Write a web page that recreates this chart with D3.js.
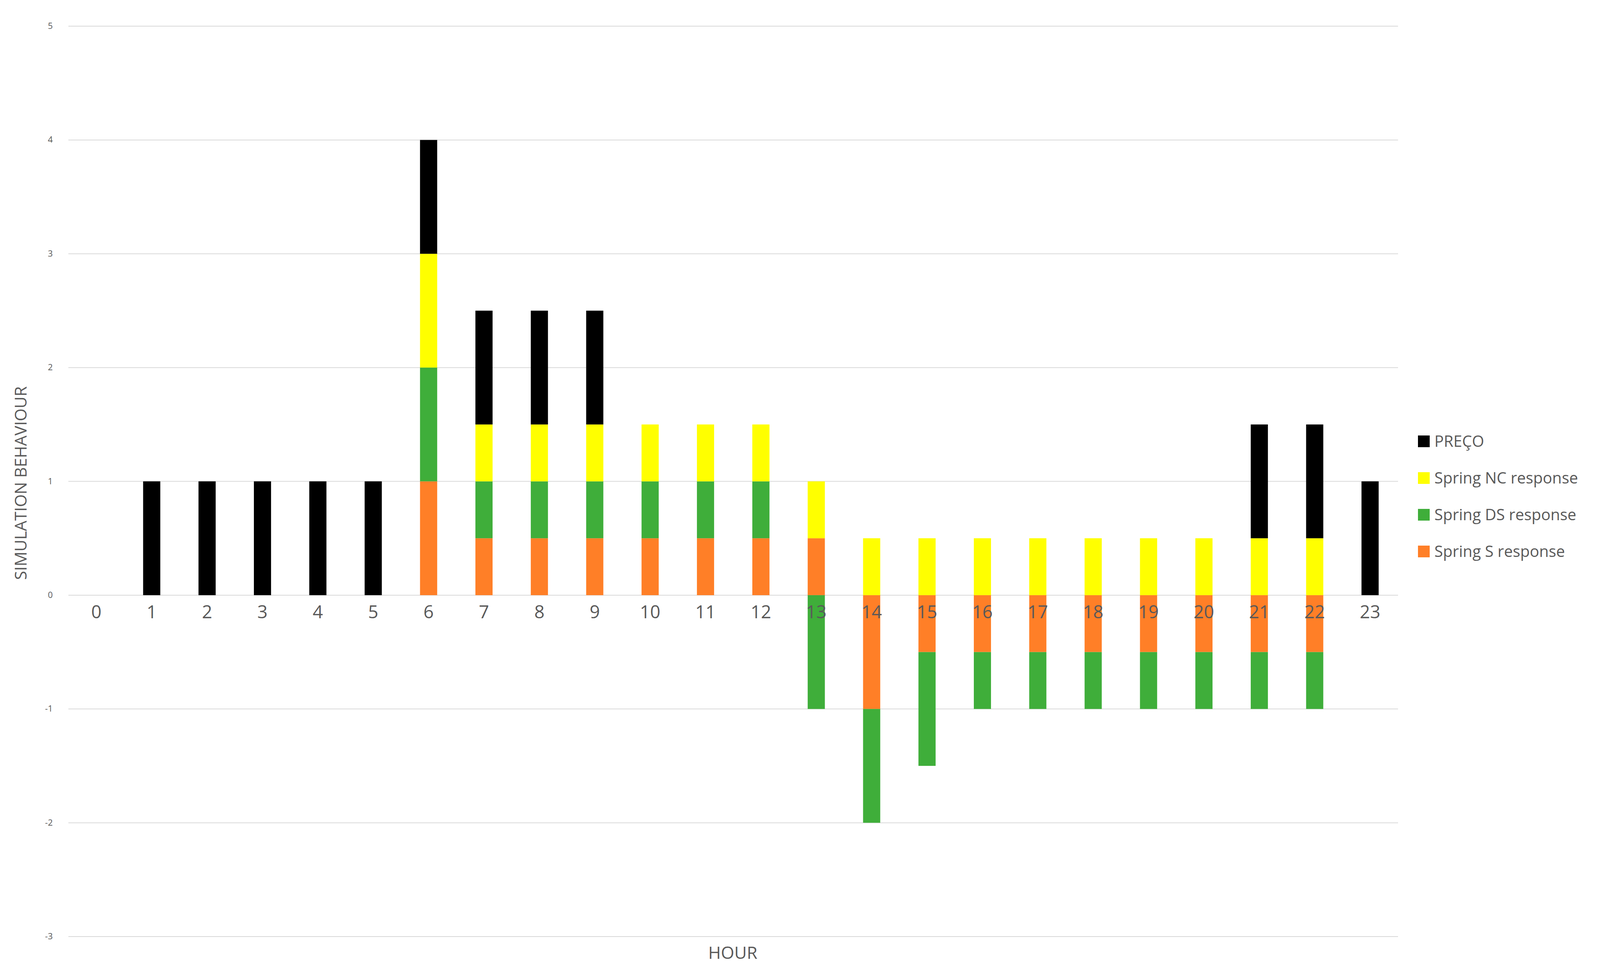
<!DOCTYPE html>
<html>
<head>
<meta charset="utf-8">
<script src="https://cdn.jsdelivr.net/npm/d3@7"></script>
<style>
  body { margin: 0; background: #fff; overflow: hidden; }
  text { font-family: "Open Sans", "Liberation Sans", sans-serif; }
</style>
</head>
<body>
<div id="graph"></div>
<script>
// Data
var hours   = d3.range(0, 24).map(String);
var springS  = [0, 0, 0, 0, 0, 0, 1, 0.5, 0.5, 0.5, 0.5, 0.5, 0.5, 0.5, -1, -0.5, -0.5, -0.5, -0.5, -0.5, -0.5, -0.5, -0.5, 0];
var springDS = [0, 0, 0, 0, 0, 0, 1, 0.5, 0.5, 0.5, 0.5, 0.5, 0.5, -1, -1, -1, -0.5, -0.5, -0.5, -0.5, -0.5, -0.5, -0.5, 0];
var springNC = [0, 0, 0, 0, 0, 0, 1, 0.5, 0.5, 0.5, 0.5, 0.5, 0.5, 0.5, 0.5, 0.5, 0.5, 0.5, 0.5, 0.5, 0.5, 0.5, 0.5, 0];
var preco    = [0, 1, 1, 1, 1, 1, 1, 1, 1, 1, 0, 0, 0, 0, 0, 0, 0, 0, 0, 0, 0, 1, 1, 1];
var yTicks = [-3, -2, -1, 0, 1, 2, 3, 4, 5];

var series = [
    { key: 'S',  name: 'Spring S response',  color: '#ff7f27', values: springS },
    { key: 'DS', name: 'Spring DS response', color: '#3fae3a', values: springDS },
    { key: 'NC', name: 'Spring NC response', color: '#ffff00', values: springNC },
    { key: 'P',  name: 'PREÇO',              color: '#000000', values: preco }
];

var rows = hours.map(function (h, i) {
    var r = { hour: h };
    series.forEach(function (s) { r[s.key] = s.values[i]; });
    return r;
});

var W = 4211, H = 2499;
var margin = { left: 175, right: 632, top: 67, bottom: 101 };

var svg = d3.select('#graph').append('svg')
            .attr('width', W).attr('height', H);

var xScale = d3.scaleBand().domain(hours)
               .range([margin.left, W - margin.right]).paddingInner(0.69).paddingOuter(0.35);
var yScale = d3.scaleLinear().domain([-3, 5]).range([H - margin.bottom, margin.top]);

// Gridlines
svg.append('g').selectAll('line').data(yTicks).enter().append('line')
   .attr('x1', margin.left).attr('x2', W - margin.right)
   .attr('y1', function (d) { return yScale(d); })
   .attr('y2', function (d) { return yScale(d); })
   .attr('stroke', '#d9d9d9').attr('stroke-width', 2);

// Y tick labels
svg.append('g').selectAll('text').data(yTicks).enter().append('text')
   .attr('x', 135).attr('y', function (d) { return yScale(d) + 7; })
   .attr('text-anchor', 'end').attr('font-size', 22).attr('fill', '#595959')
   .text(function (d) { return d; });

// Stacked bars
var stack = d3.stack().keys(series.map(function (s) { return s.key; }))
              .offset(d3.stackOffsetDiverging);
var layers = stack(rows);

svg.append('g').selectAll('g').data(layers).enter().append('g')
   .attr('fill', function (d, i) { return series[i].color; })
   .selectAll('rect').data(function (d) { return d; }).enter().append('rect')
   .attr('x', function (d) { return xScale(d.data.hour); })
   .attr('width', xScale.bandwidth())
   .attr('y', function (d) { return yScale(Math.max(d[0], d[1])); })
   .attr('height', function (d) { return Math.abs(yScale(d[0]) - yScale(d[1])); });

// Category labels at zero line
var xAxis = d3.axisBottom(xScale).tickSize(0).tickPadding(26);
var gx = svg.append('g').attr('transform', 'translate(0,' + yScale(0) + ')').call(xAxis);
gx.select('.domain').remove();
gx.selectAll('text').attr('font-size', 46).attr('fill', '#595959')
  .style('font-family', '"Open Sans", "Liberation Sans", sans-serif');

// Axis titles
svg.append('text').attr('x', 1876).attr('y', 2455).attr('text-anchor', 'middle')
   .attr('font-size', 44).attr('fill', '#595959').text('HOUR');
svg.append('text').attr('transform', 'translate(68,1237) rotate(-90)')
   .attr('text-anchor', 'middle').attr('font-size', 42).attr('fill', '#595959')
   .text('SIMULATION BEHAVIOUR');

// Legend (reverse order)
var legend = svg.append('g').selectAll('g').data(series.slice().reverse()).enter().append('g')
   .attr('transform', function (d, i) { return 'translate(3630,' + (1130 + i * 94) + ')'; });
legend.append('rect').attr('x', 0).attr('y', -15).attr('width', 30).attr('height', 30)
      .attr('fill', function (d) { return d.color; });
legend.append('text').attr('x', 42).attr('y', 14).attr('font-size', 40).attr('fill', '#595959')
      .text(function (d) { return d.name; });
</script>
</body>
</html>
